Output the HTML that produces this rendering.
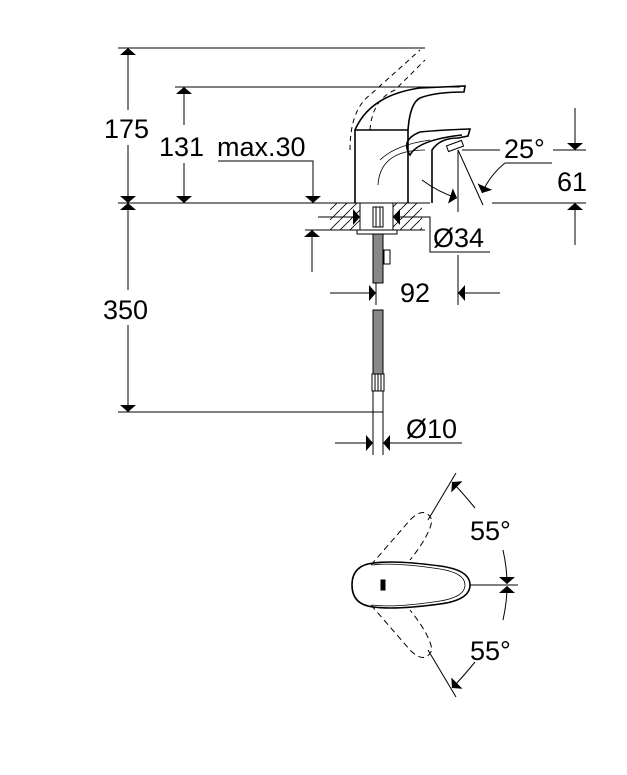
<!DOCTYPE html>
<html><head><style>
html,body{margin:0;padding:0;background:#fff;}
svg{display:block;}
text{font-family:"Liberation Sans",sans-serif;fill:#000;}
</style></head><body>
<svg width="627" height="775" viewBox="0 0 627 775" xmlns="http://www.w3.org/2000/svg">
<defs>
<marker id="a" viewBox="0 0 10 10" refX="10" refY="5" markerWidth="7" markerHeight="16" markerUnits="userSpaceOnUse" orient="auto-start-reverse" preserveAspectRatio="none"><path d="M0,0 L10,5 L0,10 Z" fill="#000"/></marker>
<pattern id="h" width="10" height="10" patternUnits="userSpaceOnUse"><path d="M0,10 L10,0" stroke="#000" stroke-width="0.8"/></pattern>
</defs>
<g stroke="#000" stroke-width="1" fill="none">
<line x1="118" y1="48" x2="425" y2="48"/>
<line x1="175" y1="87" x2="460" y2="87"/>
<line x1="118" y1="203" x2="430" y2="203"/>
<line x1="492" y1="203" x2="586" y2="203"/>
<line x1="462" y1="150" x2="500" y2="150"/>
<line x1="553" y1="150" x2="586" y2="150"/>
<line x1="128" y1="110" x2="128" y2="48" marker-end="url(#a)"/>
<line x1="128" y1="145" x2="128" y2="203" marker-end="url(#a)"/>
<line x1="184" y1="125" x2="184" y2="87" marker-end="url(#a)"/>
<line x1="184" y1="163" x2="184" y2="203" marker-end="url(#a)"/>
<polyline points="218,161 313,161 313,203" marker-end="url(#a)"/>
<line x1="575" y1="108" x2="575" y2="150" marker-end="url(#a)"/>
<line x1="575" y1="245" x2="575" y2="203" marker-end="url(#a)"/>
<line x1="458" y1="150" x2="458" y2="212"/>
<line x1="458" y1="150" x2="483" y2="205"/>
<polyline points="552,163 505,163"/>
<path d="M505,163 Q490,175 482,193" marker-end="url(#a)"/>
<path d="M422,180 Q438,192 457,198" marker-end="url(#a)"/>
<line x1="128" y1="290" x2="128" y2="203" marker-end="url(#a)"/>
<line x1="128" y1="325" x2="128" y2="412" marker-end="url(#a)"/>
<line x1="118" y1="412" x2="373" y2="412"/>
<rect x="330" y="203" width="92" height="27" fill="url(#h)" stroke="none"/>
<line x1="325" y1="230" x2="425" y2="230"/>
<rect x="360" y="203" width="33" height="27" fill="#fff"/>
<line x1="318" y1="217" x2="360" y2="217" marker-end="url(#a)"/>
<line x1="430" y1="217" x2="393" y2="217" marker-end="url(#a)"/>
<polyline points="425,217 430,217 430,252 490,252"/>
<line x1="305" y1="230" x2="325" y2="230"/>
<line x1="312" y1="272" x2="312" y2="230" marker-end="url(#a)"/>
<rect x="357" y="230" width="40" height="4" fill="#fff"/>
<rect x="373" y="207" width="10" height="20"/>
<line x1="376" y1="207" x2="376" y2="227"/><line x1="380" y1="207" x2="380" y2="227"/>
<rect x="384" y="250" width="6" height="14"/>
<rect x="373" y="234" width="10" height="49" fill="#888"/>
<rect x="373" y="310" width="10" height="64" fill="#888"/>
<rect x="372" y="374" width="12" height="17" fill="#fff"/>
<line x1="375" y1="374" x2="375" y2="391"/><line x1="378" y1="374" x2="378" y2="391"/><line x1="381" y1="374" x2="381" y2="391"/>
<rect x="373" y="391" width="10" height="21"/>
<line x1="376" y1="283" x2="376" y2="305"/>
<line x1="458" y1="255" x2="458" y2="305"/>
<line x1="330" y1="293" x2="376" y2="293" marker-end="url(#a)"/>
<line x1="500" y1="293" x2="458" y2="293" marker-end="url(#a)"/>
<line x1="373" y1="412" x2="373" y2="455"/>
<line x1="383" y1="412" x2="383" y2="455"/>
<line x1="335" y1="443" x2="373" y2="443" marker-end="url(#a)"/>
<polyline points="462,443 383,443" marker-end="url(#a)"/>
<path d="M355,203 L355,130 L408,130 L408,203" stroke-width="1.6"/>
<path d="M432,203 L432,150 Q440,138 458,138 L468,136 L470,129 Q440,130 420,132 Q400,140 410,155 Q418,140 462,135" stroke-width="1.6"/>
<path d="M355,130 Q370,95 420,88 L465,86 L464,92 Q435,92 420,98 Q410,103 408,130" stroke-width="1.6"/>
<path d="M380,160 Q395,145 430,140" stroke-width="0.8"/>
<path d="M378,185 Q380,150 425,150" stroke-width="0.8"/>
<rect x="447" y="143" width="16" height="6" transform="rotate(-20 455 146)"/>
<path d="M350,150 Q350,110 370,95 L420,50" stroke-dasharray="5,4"/>
<path d="M370,130 Q372,100 395,90 L425,60" stroke-dasharray="5,4"/>
<path d="M374,563 Q395,560 440,566 Q470,570 470,585 Q470,600 440,604 Q395,610 374,607 Q352,605 352,585 Q352,565 374,563 Z" stroke-width="1.6"/>
<path d="M372,565 Q395,562 440,569 Q465,573 465,585 Q465,597 440,601 Q395,608 372,605" stroke-width="0.8"/>
<rect x="381" y="580" width="4" height="10" fill="#000"/>
<path d="M371,565 L410,520 Q425,505 432,520 Q430,535 410,560" stroke-dasharray="6,4"/>
<path d="M371,605 L410,650 Q425,665 432,650 Q430,635 410,610" stroke-dasharray="6,4"/>
<line x1="470" y1="585" x2="518" y2="585"/>
<line x1="428" y1="520" x2="456" y2="473"/>
<line x1="428" y1="650" x2="456" y2="697"/>
<path d="M475,508 Q462,492 452,482" marker-end="url(#a)"/>
<path d="M503,550 Q507,568 507,584" marker-end="url(#a)"/>
<path d="M503,620 Q507,602 507,586" marker-end="url(#a)"/>
<path d="M475,662 Q462,678 452,688" marker-end="url(#a)"/>
</g>
<g font-size="27">
<text x="104" y="138">175</text>
<text x="159" y="156">131</text>
<text x="217" y="156">max.30</text>
<text x="504" y="158">25°</text>
<text x="557" y="191">61</text>
<text x="433" y="247">Ø34</text>
<text x="400" y="302">92</text>
<text x="103" y="319">350</text>
<text x="406" y="438">Ø10</text>
<text x="470" y="540">55°</text>
<text x="470" y="660">55°</text>
</g>
</svg>
</body></html>
